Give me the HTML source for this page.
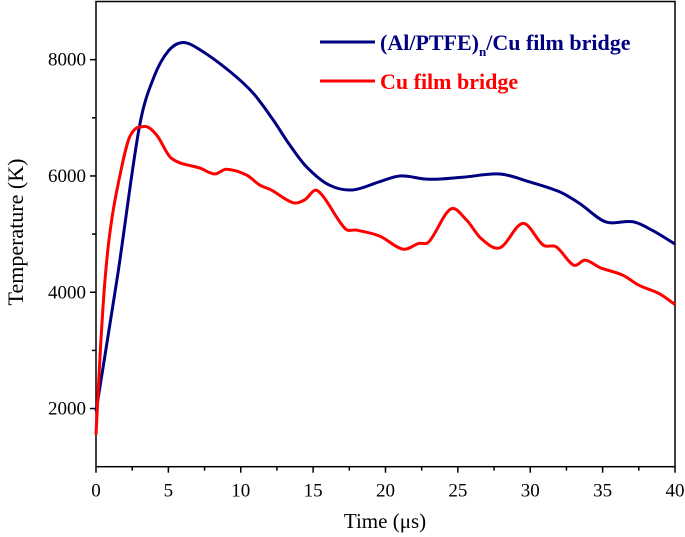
<!DOCTYPE html>
<html><head><meta charset="utf-8"><style>
body{margin:0;background:#fff;}
svg{display:block;font-family:"Liberation Serif",serif;}
</style></head><body>
<svg id="chart" width="685" height="537">
<g id="axes"></g>
<g id="series"></g>
<g id="legend">
<line x1="320" y1="42" x2="375" y2="42" stroke="#000080" stroke-width="3"/>
<text x="380" y="50" font-size="22" font-weight="bold" fill="#000080">(Al/PTFE)<tspan font-size="13" dy="6">n</tspan><tspan dy="-6">/Cu film bridge</tspan></text>
<line x1="320" y1="81" x2="375" y2="81" stroke="#ff0000" stroke-width="3"/>
<text x="380" y="89" font-size="22" font-weight="bold" fill="#ff0000">Cu film bridge</text>
</g>
<text x="385" y="528" font-size="21" text-anchor="middle">Time (μs)</text>
<text transform="translate(23,232) rotate(-90)" font-size="22" text-anchor="middle">Temperature (K)</text>
</svg>
<script>
const xTicks=[0,5,10,15,20,25,30,35,40];
const yTicks=[2000,4000,6000,8000];
const blueT=[0,1.5,3.0,4.0,5.0,6.0,7.17,9.24,10.85,12.23,13.38,14.53,16.1,17.7,19.6,21.0,23.0,25.3,27.9,29.9,32.0,33.4,35.2,37.1,38.4,40];
const blueV=[1950,4300,6850,7700,8150,8295,8172,7798,7426,6966,6534,6160,5845,5759,5902,6000,5943,5977,6034,5902,5730,5529,5212,5212,5069,4830];
const redT=[0,0.3,0.62,1.0,1.54,2.34,3.38,4.2,5.2,7.2,8.2,9.0,10.4,11.3,12.1,13.6,14.4,15.3,17.2,18.0,19.6,21.2,22.3,23.0,24.5,25.6,26.6,27.9,29.5,30.9,31.8,33.0,33.8,34.8,36.4,37.5,38.9,40];
const redV=[1552,3000,4207,5100,5874,6678,6850,6700,6305,6133,6034,6115,6017,5845,5759,5540,5586,5747,5098,5069,4966,4741,4840,4868,5431,5241,4925,4764,5184,4810,4781,4466,4552,4426,4293,4121,3977,3790];
const X0=96,X1=675,Y0=466.7,Y1=1.5,XMIN=0,XMAX=40,YMIN=1000,YMAX=9000;
function xs(t){return X0+(t-XMIN)/(XMAX-XMIN)*(X1-X0);}
function ys(v){return Y0-(v-YMIN)/(YMAX-YMIN)*(Y0-Y1);}
const NS="http://www.w3.org/2000/svg";
const axes=document.getElementById('axes');
function mk(tag,attrs,parent){const e=document.createElementNS(NS,tag);for(const k in attrs)e.setAttribute(k,attrs[k]);parent.appendChild(e);return e;}
const frame=mk('rect',{x:X0,y:Y1,width:X1-X0,height:Y0-Y1,fill:'none',stroke:'#000','stroke-width':1.5},axes);


for(let t=0;t<=40;t+=2.5){
  const major=xTicks.includes(t);
  const l=mk('line',{x1:xs(t),x2:xs(t),y1:Y0,y2:Y0+(major?6:4),stroke:'#000','stroke-width':1.5},axes);
  
  
}
xTicks.forEach(t=>{
  const tx=mk('text',{x:xs(t),y:Y0+30,'font-size':19,'text-anchor':'middle'},axes);
  tx.textContent=t;
  
  
});
for(let v=2000;v<=8000;v+=1000){
  const major=yTicks.includes(v);
  const l=mk('line',{x1:X0,x2:X0-(major?6:4),y1:ys(v),y2:ys(v),stroke:'#000','stroke-width':1.5},axes);
  
  
}
yTicks.forEach(v=>{
  const tx=mk('text',{x:X0-10,y:ys(v)+6,'font-size':19,'text-anchor':'end'},axes);
  tx.textContent=v;
  
  
});
function smooth(T,V){
  const n=T.length,m=[];
  for(let i=0;i<n;i++){
    if(i===0)m.push((V[1]-V[0])/(T[1]-T[0]));
    else if(i===n-1)m.push((V[n-1]-V[n-2])/(T[n-1]-T[n-2]));
    else m.push((V[i+1]-V[i-1])/(T[i+1]-T[i-1]));
  }
  let d='M'+xs(T[0])+','+ys(V[0]);
  for(let i=0;i<n-1;i++){
    const h=T[i+1]-T[i];
    d+=' C'+xs(T[i]+h/3)+','+ys(V[i]+m[i]*h/3)+' '+xs(T[i+1]-h/3)+','+ys(V[i+1]-m[i+1]*h/3)+' '+xs(T[i+1])+','+ys(V[i+1]);
  }
  return d;
}
const series=document.getElementById('series');
const blue=mk('path',{d:smooth(blueT,blueV),fill:'none',stroke:'#000080','stroke-width':3,'stroke-linejoin':'round'},series);


const red=mk('path',{d:smooth(redT,redV),fill:'none',stroke:'#ff0000','stroke-width':3,'stroke-linejoin':'round'},series);


</script>
</body></html>
